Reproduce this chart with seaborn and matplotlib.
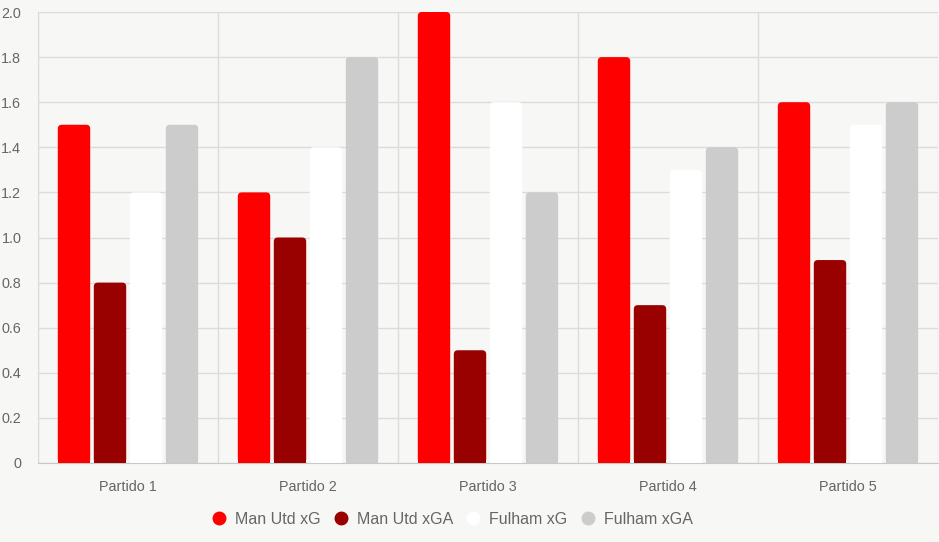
import pandas as pd
import numpy as np
import matplotlib
matplotlib.use('Agg')
import matplotlib.pyplot as plt
import seaborn as sns
from matplotlib.patches import FancyBboxPatch, Rectangle
from matplotlib.lines import Line2D
from matplotlib.ticker import FixedLocator

partidos = ['Partido 1', 'Partido 2', 'Partido 3', 'Partido 4', 'Partido 5']
series = ['Man Utd xG', 'Man Utd xGA', 'Fulham xG', 'Fulham xGA']
man_utd_xg = [1.5, 1.2, 2.0, 1.8, 1.6]
man_utd_xga = [0.8, 1.0, 0.5, 0.7, 0.9]
fulham_xg = [1.2, 1.4, 1.6, 1.3, 1.5]
fulham_xga = [1.5, 1.8, 1.2, 1.4, 1.6]
colors = ['#ff0000', '#990000', '#ffffff', '#cccccc']

bg = '#f7f7f5'
grid_col = '#dcdcdc'
text_col = '#666666'

df = pd.DataFrame({
    'partido': partidos * 4,
    'serie': np.repeat(series, len(partidos)),
    'valor': man_utd_xg + man_utd_xga + fulham_xg + fulham_xga,
})

sns.set_style('white')
plt.rcParams['font.family'] = ['Liberation Sans', 'DejaVu Sans']

W, H = 939, 542
fig = plt.figure(figsize=(W / 100, H / 100), dpi=100, facecolor=bg)
ax = fig.add_axes([38 / W, (H - 463) / H, 900 / W, 451 / H])
ax.set_facecolor(bg)

sns.barplot(data=df, x='partido', y='valor', hue='serie', palette=colors,
            saturation=1, width=0.8, gap=0.1, linewidth=0, ax=ax, legend=False)

ax.set_xlim(-0.5, 4.5)
ax.set_ylim(0, 2.0)

# rounded tops like the original bars
r_px = 4
xr = r_px * 5 / 900
yr = r_px * 2.0 / 451
for p in list(ax.patches):
    x0, w, h = p.get_x(), p.get_width(), p.get_height()
    fc = p.get_facecolor()
    p.set_visible(False)
    ax.add_patch(FancyBboxPatch((x0, 0), w, h, boxstyle=f'round,pad=0,rounding_size={xr}',
                                mutation_aspect=yr / xr, facecolor=fc, edgecolor='none', zorder=3))
    ax.add_patch(Rectangle((x0, 0), w, h / 2, facecolor=fc, edgecolor='none', zorder=3))

# grid
ax.set_yticks(np.arange(0, 2.01, 0.2))
ax.set_yticklabels(['0'] + [f'{v:.1f}' for v in np.arange(0.2, 2.01, 0.2)])
ax.xaxis.set_minor_locator(FixedLocator(np.arange(-0.5, 5, 1)))
ax.grid(axis='y', color=grid_col, linewidth=1, zorder=0)
ax.grid(axis='x', which='minor', color=grid_col, linewidth=1, zorder=0)
ax.set_axisbelow(True)
ax.tick_params(axis='x', which='major', length=0, pad=12, labelsize=10.4, labelcolor=text_col)
ax.tick_params(axis='x', which='minor', length=8, color=grid_col, width=1)
ax.tick_params(axis='y', length=8, color=grid_col, width=1, pad=4, labelsize=10.4, labelcolor=text_col)
for s in ['top', 'right']:
    ax.spines[s].set_visible(False)
ax.spines['left'].set_color(grid_col)
ax.spines['bottom'].set_color('#c8c8c8')
ax.set_xlabel('')
ax.set_ylabel('')

handles = [Line2D([], [], marker='o', linestyle='', markersize=9,
                  markerfacecolor=c, markeredgecolor=c) for c in colors]
fig.legend(handles, series, loc='center', bbox_to_anchor=(451 / W, 1 - 519 / H), ncol=4,
           frameon=False, fontsize=11.5, labelcolor=text_col, handletextpad=0.42,
           columnspacing=0.65, handlelength=1.2)

fig.savefig('out.png', dpi=100, facecolor=bg)
